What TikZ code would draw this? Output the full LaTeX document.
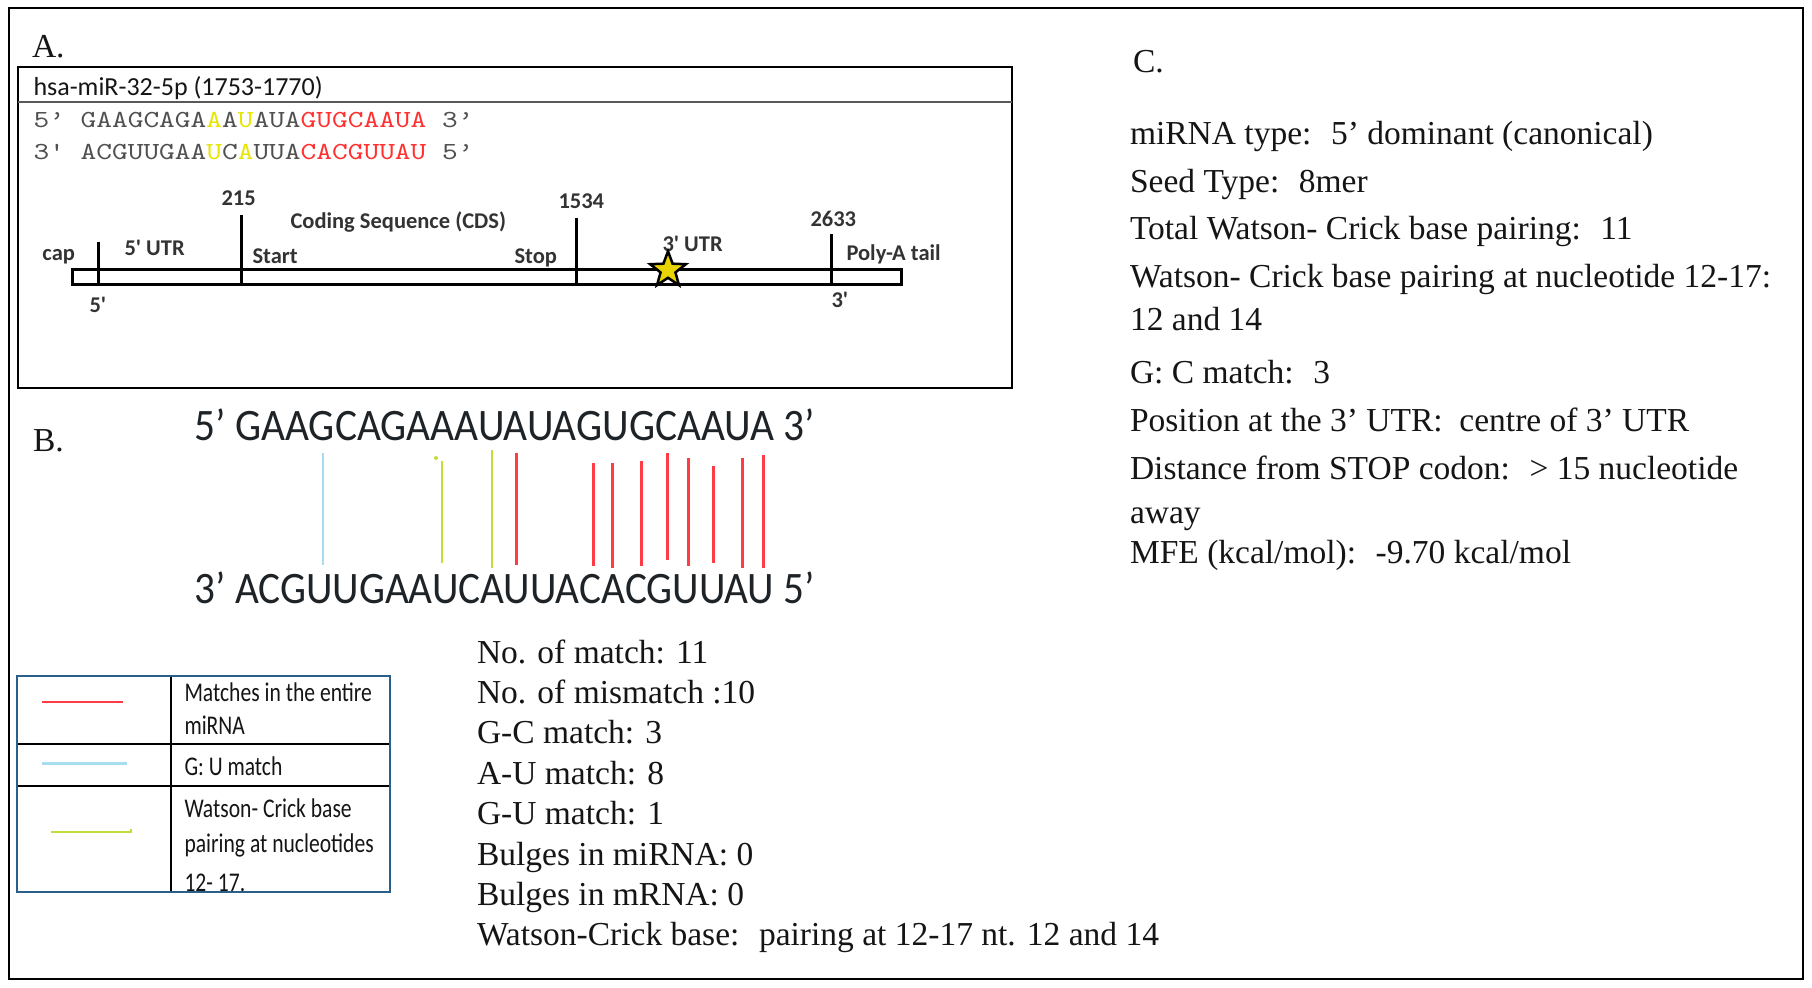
\documentclass[tikz,border=0pt]{standalone}
\usepackage{graphicx}
\usepackage{fontspec}
\setmainfont{Liberation Serif}
\newfontfamily\calib{Carlito}[Ligatures=TeXOff]
\usetikzlibrary{shapes.geometric}
\definecolor{seqred}{HTML}{FF3030}
\definecolor{seqyel}{HTML}{E6E600}
\definecolor{pairred}{HTML}{FF3B46}
\definecolor{paircyan}{HTML}{A8DCEF}
\definecolor{pairgreen}{HTML}{C0DE3A}
\definecolor{legblue}{HTML}{2A5F8C}
\definecolor{seqgray}{HTML}{505050}
\definecolor{lblgray}{HTML}{333333}
\definecolor{starfill}{HTML}{E8D400}
\definecolor{txtdark}{HTML}{151515}
\definecolor{seqbcol}{HTML}{1E2328}
\tikzset{
  txt/.style={anchor=base west, inner sep=0pt, outer sep=0pt, text=txtdark, font=\fontsize{13.4}{16}\selectfont},
  hdr/.style={anchor=base west, inner sep=0pt, text=txtdark, font=\calib\fontsize{10.4}{12}\selectfont},
  seqa/.style={anchor=base west, inner sep=0pt, text=seqgray, font=\ttfamily\fontsize{9.8}{11}\selectfont},
  lbl/.style={anchor=base west, inner sep=0pt, text=lblgray, font=\calib\bfseries\fontsize{9}{10}\selectfont},
  seqb/.style={anchor=base west, inner sep=0pt, text=seqbcol, font=\calib\fontsize{18}{20}\selectfont},
  leg/.style={anchor=base west, inner sep=0pt, text=txtdark, font=\calib\fontsize{10.8}{12}\selectfont},
  tick/.style={line width=1.2pt},
  pr/.style={pairred, line width=1.2pt},
  pc/.style={paircyan, line width=1.1pt},
  pg/.style={pairgreen, line width=1.1pt}
}
\newcommand{\legtext}[1]{\scalebox{0.8}[1]{#1}}
\newcommand{\seqtext}[1]{\resizebox{176pt}{\height}{#1}}
\begin{document}
\begin{tikzpicture}[x=0.4pt,y=-0.4pt]
\useasboundingbox (0,0) rectangle (1812,987);
\fill[white] (0,0) rectangle (1812,987);
% outer frame
\draw[line width=1pt] (9,8) rectangle (1803,979);

% ---------------- Panel A ----------------
\node[txt] (labA) at (32,57) {A.};
\draw[line width=0.9pt] (18,67) rectangle (1012,388);
\draw[line width=0.8pt, black!65] (18,102) -- (1012,102);
\node[hdr] (hdrA) at (33,95) {hsa-miR-32-5p (1753-1770)};
\node[seqa] (seqA1) at (33,127) {\seqtext{5’ GAAGCAGA\textcolor{seqyel}{A}A\textcolor{seqyel}{U}AUA\textcolor{seqred}{GUGCAAUA} 3’}};
\node[seqa] (seqA2) at (33,159) {\seqtext{3' ACGUUGAA\textcolor{seqyel}{U}C\textcolor{seqyel}{A}UUA\textcolor{seqred}{CACGUUAU} 5’}};

% mRNA bar
\draw[line width=1.2pt] (72,269) rectangle (901,284);
\draw[tick] (98,242) -- (98,284);
\draw[tick] (241,215) -- (241,284);
\draw[tick] (576,218) -- (576,284);
\draw[tick] (831,234) -- (831,284);
\node[lbl] (cap) at (42,260) {cap};
\node[lbl] (utr5) at (124,255) {5' UTR};
\node[lbl] (n215) at (221,205) {215};
\node[lbl] (cds) at (290,228) {Coding Sequence (CDS)};
\node[lbl] (start) at (252,263) {Start};
\node[lbl] (stop) at (514,263) {Stop};
\node[lbl] (n1534) at (558,208) {1534};
\node[lbl] (utr3) at (662,251) {3' UTR};
\node[lbl] (n2633) at (810,226) {2633};
\node[lbl] (polya) at (846,260) {Poly-A tail};
\node[lbl] (end5) at (89,312) {5'};
\node[lbl] (end3) at (831,307) {3'};
\node[star, star points=5, star point ratio=2.4, minimum size=15pt, inner sep=0pt,
      fill=starfill, draw=black, line width=1pt] (site) at (668,270) {};

% ---------------- Panel B ----------------
\node[txt] (labB) at (33,451) {B.};
\node[seqb] (mirna) at (194,440) {\resizebox{248pt}{\height}{5’ GAAGCAGAAAUAUAGUGCAAUA 3’}};
\node[seqb] (mrna) at (194,603) {\resizebox{248pt}{\height}{3’ ACGUUGAAUCAUUACACGUUAU 5’}};
\draw[pc] (323,453) -- (323,565);
\draw[pg] (442,461) -- (442,563);
\fill[pairgreen] (436,458) circle (0.8pt);
\draw[pg] (492,450) -- (492,568);
\draw[pr] (516,453) -- (516,565);
\draw[pr] (593,463) -- (593,566);
\draw[pr] (612,463) -- (612,568);
\draw[pr] (641,461) -- (641,566);
\draw[pr] (667,453) -- (667,560);
\draw[pr] (688,458) -- (688,566);
\draw[pr] (713,466) -- (713,563);
\draw[pr] (742,458) -- (742,568);
\draw[pr] (763,455) -- (763,568);

% legend
\draw[line width=0.8pt] (171,676) -- (171,892);
\draw[line width=0.8pt] (17,744) -- (390,744);
\draw[line width=0.8pt] (17,786) -- (390,786);
\draw[pairred, line width=0.8pt] (42,702) -- (123,702);
\draw[paircyan, line width=1.2pt] (42,763) -- (127,763);
\draw[pairgreen, line width=0.7pt] (51,832) -- (131,832) -- (131,829);
\node[leg] (lg1a) at (184,701) {\legtext{Matches in the entire}};
\node[leg] (lg1b) at (184,734) {\legtext{miRNA}};
\node[leg] (lg2) at (184,775) {\legtext{G: U match}};
\node[leg] (lg3a) at (184,817) {\legtext{Watson- Crick base}};
\node[leg] (lg3b) at (184,852) {\legtext{pairing at nucleotides}};
\node[leg] (lg3c) at (184,891) {\legtext{12- 17.}};
\draw[legblue, line width=0.9pt] (17,676) rectangle (390,892);

% stats
\node[txt] (s1) at (477,663) {No. of match: 11};
\node[txt] (s2) at (477,703.4) {No. of mismatch :10};
\node[txt] (s3) at (477,743.8) {G-C match: 3};
\node[txt] (s4) at (477,784.2) {A-U match: 8};
\node[txt] (s5) at (477,824.6) {G-U match: 1};
\node[txt] (s6) at (477,865) {Bulges in miRNA: 0};
\node[txt] (s7) at (477,905.4) {Bulges in mRNA: 0};
\node[txt] (s8) at (477,945.8) {Watson-Crick base:~ pairing at 12-17 nt. 12 and 14};

% ---------------- Panel C ----------------
\node[txt] (labC) at (1133,72) {C.};
\node[txt] (c1) at (1130,144) {miRNA type:~ 5’ dominant (canonical)};
\node[txt] (c2) at (1130,192) {Seed Type:~ 8mer};
\node[txt] (c3) at (1130,239) {Total Watson- Crick base pairing:~ 11};
\node[txt] (c4) at (1130,287) {Watson- Crick base pairing at nucleotide 12-17:};
\node[txt] (c5) at (1130,330) {12 and 14};
\node[txt] (c6) at (1130,383) {G: C match:~ 3};
\node[txt] (c7) at (1130,431) {Position at the 3’ UTR:~ centre of 3’ UTR};
\node[txt] (c8) at (1130,479) {Distance from STOP codon:~ > 15 nucleotide};
\node[txt] (c9) at (1130,523) {away};
\node[txt] (c10) at (1130,563) {MFE (kcal/mol):~ -9.70 kcal/mol};
\end{tikzpicture}
\end{document}
